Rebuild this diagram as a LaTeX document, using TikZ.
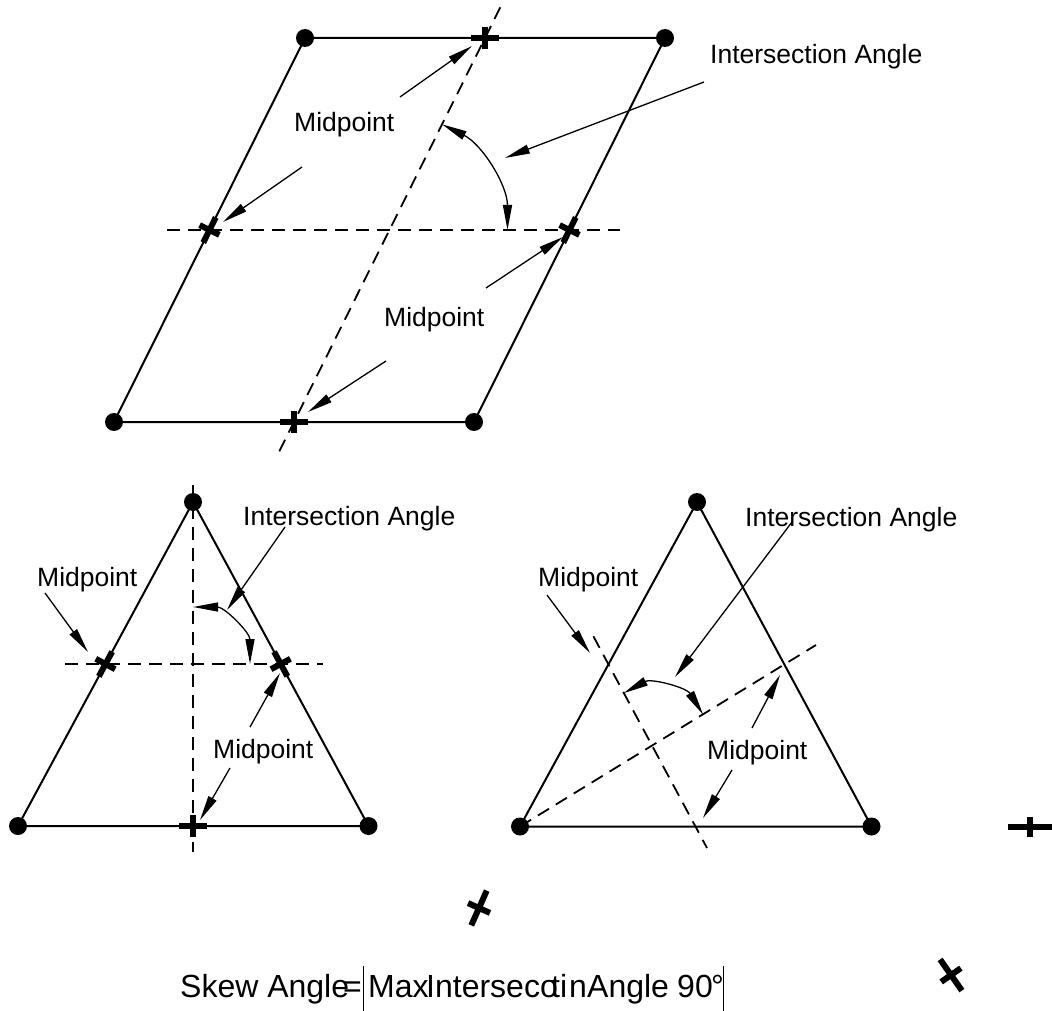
\documentclass[tikz,border=0pt]{standalone}
\usepackage{fontspec}
\setmainfont{Liberation Sans}
\usetikzlibrary{arrows.meta}
\begin{document}
\begin{tikzpicture}[x=1pt,y=-1pt,
  edge/.style={line width=2pt},
  guide/.style={line width=1.8pt, dash pattern=on 13pt off 8pt},
  lead/.style={line width=1.3pt, -{Triangle[length=25pt,width=9pt]}},
  twoway/.style={line width=1.3pt, {Triangle[length=25pt,width=9pt]}-{Triangle[length=25pt,width=9pt]}},
  lbl/.style={anchor=base west, inner sep=0pt, font=\fontsize{26.5}{30}\selectfont},
  fml/.style={anchor=base west, inner sep=0pt, font=\fontsize{32}{36}\selectfont},
  vtx/.style={circle, fill, inner sep=0pt, minimum size=18pt},
  markbar/.style={line width=6pt},
  bar/.style={line width=1.2pt},
  edgecross/.pic={\draw[markbar] (-14pt,0)--(14pt,0); \draw[markbar] (0,-11pt)--(0,11pt);}
]
\useasboundingbox (0,0) rectangle (1052,1011);

% ---------- parallelogram ----------
\node[vtx] (pTL) at (305,38) {};
\node[vtx] (pTR) at (665,38) {};
\node[vtx] (pBL) at (114,422) {};
\node[vtx] (pBR) at (474,422) {};
\draw[edge] (pTL.center)--(pTR.center)--(pBR.center)--(pBL.center)--cycle;
\coordinate (pmT) at (485,38);
\coordinate (pmB) at (294,422);
\coordinate (pmL) at (209.5,230);
\coordinate (pmR) at (569.5,230);
\coordinate (pX) at (389.5,230);
\coordinate (pg1) at (500.3,7.3);
\coordinate (pg2) at (276,458);
\coordinate (ph1) at (167,230);
\coordinate (ph2) at (620,230);
\draw[guide] (pg1)--(pg2);
\draw[guide] (ph1)--(ph2);
\pic at (pmT) {edgecross};
\pic at (pmB) {edgecross};
\pic[rotate=63.55] at (pmL) {edgecross};
\pic[rotate=63.55] at (pmR) {edgecross};
\draw[twoway] (pX) ++(0:118pt) arc[start angle=0, end angle=63.55, radius=118pt];

\node[lbl] (pInt) at (710,64) {Intersection Angle};
\node[lbl] (pMid1) at (294,132) {Midpoint};
\node[lbl] (pMid2) at (384,326) {Midpoint};
\coordinate (pa1s) at (400,97);  \coordinate (pa1t) at (472,46);
\coordinate (pa2s) at (302,167); \coordinate (pa2t) at (223,222);
\coordinate (pa3s) at (704,82);  \coordinate (pa3t) at (505,158);
\coordinate (pa4s) at (486,288); \coordinate (pa4t) at (563,237);
\coordinate (pa5s) at (386,361); \coordinate (pa5t) at (308,412);
\draw[lead] (pa1s)--(pa1t);
\draw[lead] (pa2s)--(pa2t);
\draw[lead] (pa3s)--(pa3t);
\draw[lead] (pa4s)--(pa4t);
\draw[lead] (pa5s)--(pa5t);

% ---------- left triangle ----------
\node[vtx] (tA) at (193,502) {};
\node[vtx] (tB) at (18,826) {};
\node[vtx] (tC) at (368.5,826) {};
\draw[edge] (tA.center)--(tC.center)--(tB.center)--cycle;
\coordinate (tv1) at (193,485);
\coordinate (tv2) at (193,852);
\coordinate (th1) at (65,664);
\coordinate (th2) at (323,664);
\coordinate (tX) at (193,664);
\draw[guide] (tv1)--(tv2);
\draw[guide] (th1)--(th2);
\pic[rotate=61.7] at (105.5,664) {edgecross};
\pic[rotate=-61.7] at (280.7,664) {edgecross};
\pic at (193,826) {edgecross};
\draw[twoway] (tX) ++(90:57pt) arc[start angle=90, end angle=0, radius=57pt];

\node[lbl] (tInt) at (243,525) {Intersection Angle};
\node[lbl] (tMid1) at (37,586) {Midpoint};
\node[lbl] (tMid2) at (213,758) {Midpoint};
\coordinate (ta1s) at (285,527); \coordinate (ta1t) at (227,610);
\coordinate (ta2s) at (45,593);  \coordinate (ta2t) at (88,652);
\coordinate (ta3s) at (250,727); \coordinate (ta3t) at (280,673);
\coordinate (ta4s) at (230,768); \coordinate (ta4t) at (200,820);
\draw[lead] (ta1s)--(ta1t);
\draw[lead] (ta2s)--(ta2t);
\draw[lead] (ta3s)--(ta3t);
\draw[lead] (ta4s)--(ta4t);

% ---------- right triangle ----------
\node[vtx] (rA) at (697,502) {};
\node[vtx] (rB) at (520,826.5) {};
\node[vtx] (rC) at (871.5,826.5) {};
\draw[edge] (rA.center)--(rC.center)--(rB.center)--cycle;
\coordinate (rd1) at (816,645);
\coordinate (rd2a) at (593.4,636.3);
\coordinate (rd2b) at (707,848);
\coordinate (rX) at (652,746);
\draw[guide] (rB.center)--(rd1);
\draw[guide] (rd2a)--(rd2b);
\draw[twoway] (rX) ++(118.3:60pt) arc[start angle=118.3, end angle=31.6, radius=60pt];

\node[lbl] (rInt) at (745,526) {Intersection Angle};
\node[lbl] (rMid1) at (538,586) {Midpoint};
\node[lbl] (rMid2) at (707,759) {Midpoint};
\coordinate (ra1s) at (792,522); \coordinate (ra1t) at (675,677);
\coordinate (ra2s) at (547,595); \coordinate (ra2t) at (590,653);
\coordinate (ra3s) at (752,728); \coordinate (ra3t) at (780,675);
\coordinate (ra4s) at (732,770); \coordinate (ra4t) at (703,818);
\draw[lead] (ra1s)--(ra1t);
\draw[lead] (ra2s)--(ra2t);
\draw[lead] (ra3s)--(ra3t);
\draw[lead] (ra4s)--(ra4t);

% ---------- loose marks ----------
\begin{scope}[shift={(1030,827)}]
  \draw[markbar] (-22pt,0)--(23pt,0); \draw[markbar] (0,-10pt)--(0,10pt);
\end{scope}
\begin{scope}[shift={(479,908)}, rotate=66]
  \draw[markbar] (-19pt,0)--(19pt,0); \draw[markbar] (0,-12pt)--(0,12pt);
\end{scope}
\begin{scope}[shift={(951,975)}, rotate=125]
  \draw[markbar] (-19pt,0)--(19pt,0); \draw[markbar] (0,-12pt)--(0,12pt);
\end{scope}

% ---------- formula ----------
\node[fml] (f1) at (180,997) {Skew Angle};
\node[fml] (f2) at (343,997) {=};
\node[fml] (f3) at (368,997) {Max};
\node[fml] (f4) at (426,997) {Intersec};
\node[fml] (f5) at (540,997) {o};
\node[fml] (f6) at (551,997) {ti};
\node[fml] (f7) at (569,997) {n};
\node[fml] (f8) at (587,997) {Angle};
\node[fml] (f9) at (677,997) {90};
\node[fml] (f10) at (711,997) {°};
\coordinate (b1a) at (363.5,966); \coordinate (b1b) at (363.5,1011);
\coordinate (b2a) at (723.5,966); \coordinate (b2b) at (723.5,1011);
\draw[bar] (b1a)--(b1b);
\draw[bar] (b2a)--(b2b);
\end{tikzpicture}
\end{document}
